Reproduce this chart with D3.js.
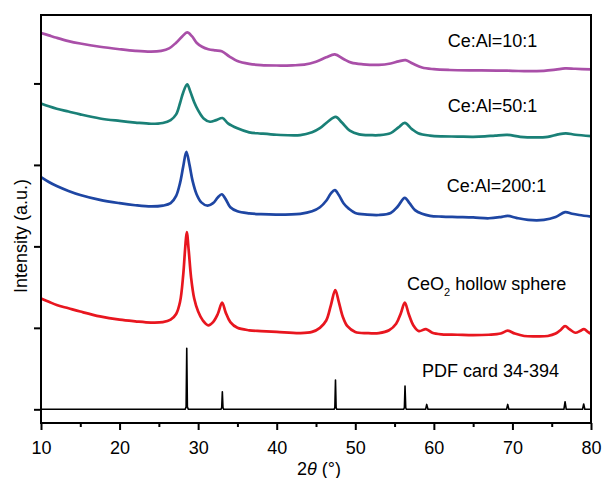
<!DOCTYPE html>
<html lang="en">
  <head>
    <meta charset="utf-8">
    <title>XRD patterns</title>
    <script src="https://d3js.org/d3.v7.min.js"></script>
    <style>
    body { margin: 0; background: white; }
    .xrd text {
      font-family: "Liberation Sans", Arial, sans-serif;
      fill: black;
    }
    .xrd .tick line { stroke: black; stroke-width: 2; }
    .xrd .series { fill: none; stroke-linejoin: round; }
    </style>
  </head>
  <body>
    <svg class="xrd"></svg>
    <script>
      // 2theta / intensity pairs (offsets already stacked)
      var pdfCard = [[10,0],[28.35,0],[28.47,0.03],[28.55,0.75],[28.63,0.03],[28.75,0],
        [32.9,0],[33.0,0.02],[33.08,0.216],[33.16,0.02],[33.25,0],
        [47.3,0],[47.4,0.02],[47.48,0.36],[47.56,0.02],[47.65,0],
        [56.15,0],[56.25,0.02],[56.33,0.286],[56.42,0.02],[56.5,0],
        [58.95,0],[59.09,0.06],[59.25,0],[69.25,0],[69.4,0.06],[69.55,0],
        [76.55,0],[76.7,0.093],[76.85,0],[78.92,0],[79.07,0.065],[79.22,0],[80,0]];

      var ceo2 = [[10,1.36],[11,1.32],[12,1.28],[13.5,1.24],[15,1.2],[17.5,1.14],[20,1.1],[22,1.08],
        [24,1.065],[25.5,1.07],[26.5,1.1],[27.2,1.17],[27.7,1.32],[28.1,1.65],[28.35,1.98],[28.55,2.175],
        [28.8,1.95],[29.1,1.62],[29.5,1.36],[30,1.2],[30.6,1.09],[31.3,1.03],[31.9,1.07],[32.5,1.17],
        [33.05,1.31],[33.5,1.19],[34.1,1.07],[35,1.0],[36.5,0.97],[38,0.96],[40,0.95],[43,0.935],
        [44.5,0.95],[45.5,1.0],[46.3,1.09],[46.9,1.28],[47.45,1.464],[47.9,1.32],[48.4,1.14],[49,1.02],
        [50,0.95],[51.5,0.935],[53,0.935],[54.3,0.97],[55.2,1.05],[55.8,1.18],[56.3,1.31],[56.8,1.17],
        [57.4,1.03],[58.1,0.96],[59,0.985],[59.8,0.94],[61,0.92],[63,0.915],[65,0.91],[67,0.915],
        [68.5,0.93],[69.4,0.965],[70.3,0.93],[71.5,0.9],[73,0.895],[74.5,0.9],[75.5,0.93],[76.2,0.98],
        [76.7,1.022],[77.3,0.98],[78,0.94],[78.6,0.96],[79.1,0.985],[79.6,0.95],[80,0.925]];

      var ceal200 = [[10,2.85],[11,2.79],[12,2.74],[13.5,2.68],[15,2.63],[17.5,2.57],[20,2.53],[22,2.505],
        [24,2.49],[25.5,2.5],[26.5,2.53],[27.2,2.62],[27.7,2.78],[28.1,2.98],[28.5,3.16],[28.9,3.0],
        [29.3,2.8],[29.8,2.64],[30.4,2.54],[31.2,2.5],[31.9,2.53],[32.5,2.6],[33.0,2.64],[33.5,2.58],
        [34.1,2.48],[35,2.43],[36.5,2.405],[38,2.395],[40,2.39],[43,2.4],[44.5,2.43],[45.5,2.48],
        [46.3,2.56],[46.9,2.65],[47.4,2.69],[47.9,2.63],[48.5,2.53],[49.2,2.46],[50,2.41],[51.5,2.39],
        [53,2.385],[54.5,2.41],[55.4,2.49],[56.3,2.596],[56.9,2.53],[57.6,2.445],[58.5,2.4],[59.5,2.375],
        [61,2.365],[63,2.36],[65,2.355],[67,2.345],[68.5,2.36],[69.4,2.375],[70.5,2.35],[72,2.325],
        [74,2.325],[75.5,2.36],[76.7,2.42],[77.6,2.4],[78.5,2.385],[80,2.365]];

      var ceal50 = [[10,3.755],[11,3.72],[12,3.69],[13.5,3.655],[15,3.62],[17.5,3.57],[20,3.54],[22,3.52],
        [24,3.505],[25.5,3.515],[26.5,3.55],[27.2,3.62],[27.7,3.76],[28.1,3.89],[28.6,3.99],[29.0,3.9],
        [29.5,3.77],[30,3.67],[30.7,3.57],[31.5,3.53],[32.3,3.55],[33.1,3.575],[33.8,3.51],[35,3.45],
        [36.5,3.4],[38,3.385],[40,3.37],[43,3.365],[44.5,3.4],[45.5,3.45],[46.5,3.53],[47.5,3.59],
        [48.3,3.52],[49.3,3.42],[50.5,3.375],[52,3.365],[53,3.365],[54.5,3.39],[55.5,3.46],[56.3,3.517],
        [57.2,3.44],[58,3.39],[59.5,3.36],[61,3.35],[63,3.348],[65,3.345],[66.5,3.35],[67.8,3.36],
        [69.4,3.368],[71,3.345],[73,3.337],[74.5,3.345],[75.8,3.375],[76.8,3.388],[78,3.37],[80,3.353]];

      var ceal10 = [[10,4.62],[11,4.59],[12,4.56],[13.5,4.52],[15,4.49],[17.5,4.45],[20,4.42],[22,4.4],
        [24,4.39],[25.3,4.4],[26.3,4.43],[27.2,4.5],[28,4.58],[28.6,4.626],[29.2,4.58],[29.8,4.5],
        [30.5,4.45],[31.3,4.42],[32.2,4.405],[33,4.395],[34,4.33],[35,4.275],[36.5,4.24],[38,4.225],
        [40,4.22],[42,4.222],[43.5,4.23],[45,4.265],[46.3,4.32],[47.4,4.356],[48.5,4.3],[49.5,4.255],
        [51,4.235],[53,4.228],[54.5,4.245],[55.5,4.27],[56.4,4.286],[57.3,4.245],[58.5,4.195],[60,4.175],
        [62,4.165],[65,4.16],[68,4.158],[70,4.155],[72,4.15],[74,4.155],[75.5,4.17],[76.7,4.185],
        [78,4.18],[80,4.172]];

      var seriesNames = ["PDF card 34-394", "CeO2 hollow sphere", "Ce:Al=200:1", "Ce:Al=50:1", "Ce:Al=10:1"];
      var xTicks = [10, 20, 30, 40, 50, 60, 70, 80];
      var xMinorTicks = [15, 25, 35, 45, 55, 65, 75];
      var yTicks = [0, 1, 2, 3, 4];

      var W = 605, H = 478;
      var pLeft = 41, pRight = 591, pTop = 15, pBottom = 423;

      var x = d3.scaleLinear().domain([10, 80]).range([pLeft, pRight]);
      var y = d3.scaleLinear().domain([-0.168, 4.84]).range([pBottom, pTop]);

      var svg = d3.select(".xrd").attr("width", W).attr("height", H);

      var line = d3.line()
        .x(function(d) { return x(d[0]); })
        .y(function(d) { return y(d[1]); });

      var smooth = d3.curveCatmullRom.alpha(0.5);
      var plots = [
        {data: pdfCard, color: "#000000", width: 1.6, curve: d3.curveLinear},
        {data: ceo2, color: "#e8161f", width: 2.7, curve: smooth},
        {data: ceal200, color: "#1e46a3", width: 2.7, curve: smooth},
        {data: ceal50, color: "#1a8077", width: 2.7, curve: smooth},
        {data: ceal10, color: "#a94fa8", width: 2.7, curve: smooth}
      ];

      svg.selectAll("path.series")
        .data(plots)
        .enter().append("path")
        .attr("class", "series")
        .attr("stroke", function(d) { return d.color; })
        .attr("stroke-width", function(d) { return d.width; })
        .attr("d", function(d) { return line.curve(d.curve)(d.data); });

      // axes
      svg.append("g")
        .attr("transform", "translate(0," + pBottom + ")")
        .call(d3.axisBottom(x).tickValues(xMinorTicks).tickSize(4).tickFormat(""))
        .call(function(g) { g.select(".domain").remove(); });

      var xa = svg.append("g")
        .attr("transform", "translate(0," + pBottom + ")")
        .call(d3.axisBottom(x).tickValues(xTicks).tickSize(7).tickPadding(11).tickFormat(d3.format("d")));
      xa.select(".domain").remove();
      xa.selectAll("text").style("font-size", "18px");

      var ya = svg.append("g")
        .attr("transform", "translate(" + pLeft + ",0)")
        .call(d3.axisLeft(y).tickValues(yTicks).tickSize(7).tickFormat(""));
      ya.select(".domain").remove();

      svg.append("rect")
        .attr("x", pLeft).attr("y", pTop)
        .attr("width", pRight - pLeft).attr("height", pBottom - pTop)
        .attr("fill", "none").attr("stroke", "black").attr("stroke-width", 2);

      // axis titles
      var xt = svg.append("text")
        .attr("x", 319).attr("y", 475)
        .attr("text-anchor", "middle")
        .style("font-size", "18px");
      xt.append("tspan").text("2");
      xt.append("tspan").style("font-style", "italic").text("θ");
      xt.append("tspan").text(" (°)");

      svg.append("text")
        .attr("transform", "translate(27,236) rotate(-90)")
        .attr("text-anchor", "middle")
        .style("font-size", "18px")
        .text("Intensity (a.u.)");

      // series labels
      var labelAt = [[58.49, 0.393], [56.58, 1.464], [61.63, 2.67], [61.76, 3.652], [61.76, 4.449]];
      svg.selectAll("text.lab")
        .data(seriesNames)
        .enter().append("text")
        .attr("class", "lab")
        .attr("x", function(d, i) { return x(labelAt[i][0]); })
        .attr("y", function(d, i) { return y(labelAt[i][1]); })
        .style("font-size", "18px")
        .each(function(d) {
          var t = d3.select(this);
          if (d.indexOf("CeO2") === 0) {
            t.append("tspan").text("CeO");
            t.append("tspan").attr("dy", 6).style("font-size", "11px").text("2");
            t.append("tspan").attr("dy", -6).text(d.slice(4));
          } else {
            t.text(d);
          }
        });
    </script>
  </body>
</html>
